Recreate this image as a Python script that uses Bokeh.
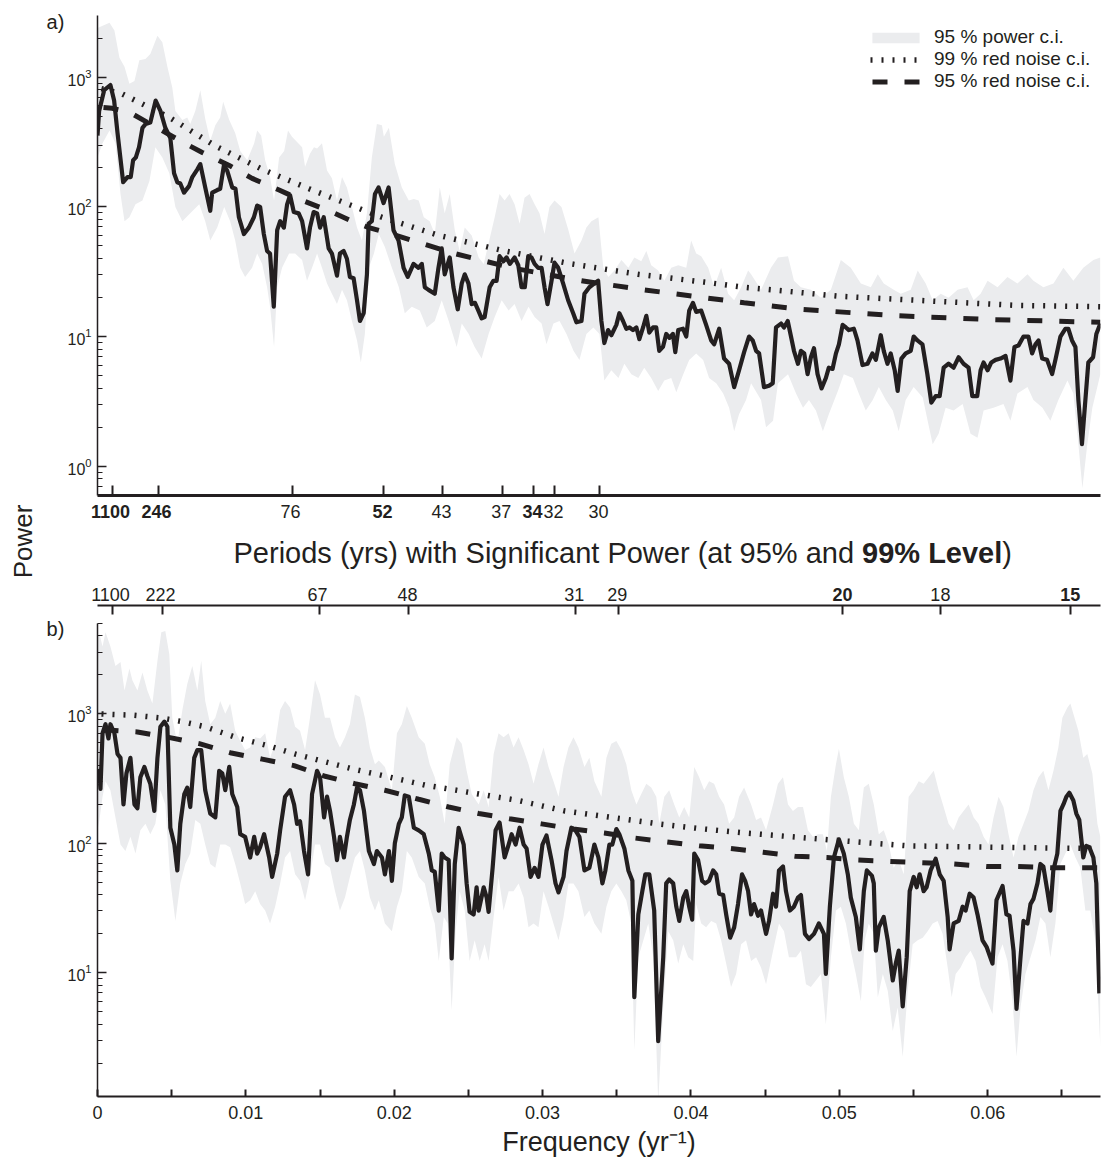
import math
import numpy as np
from bokeh.plotting import figure
from bokeh.layouts import column, row
from bokeh.models import (Range1d, FixedTicker, LogTickFormatter, LinearAxis,
                          ColumnDataSource, Legend, LegendItem, CustomJSTickFormatter)
from bokeh.core.properties import value, field
from bokeh.embed import file_html
from bokeh.resources import INLINE

FONT = "Liberation Sans"
INK = "#231f20"
BAND = "#ebecee"

# Frequencies are given in 1e-3 yr^-1, power as log10(power).

# ---------------- a) ----------------
freq_a = [
    0.00, 0.11, 0.45, 0.87, 1.12, 1.35, 1.73, 2.02, 2.24, 2.40,
    2.58, 2.80, 3.03, 3.25, 3.56, 3.92, 4.24, 4.57, 4.91, 5.16,
    5.38, 5.58, 5.83, 6.17, 6.39, 6.73, 6.93, 7.26, 7.60, 7.73,
    8.07, 8.27, 8.52, 8.74, 9.08, 9.30, 9.53, 9.87, 10.20, 10.54,
    10.76, 10.96, 11.21, 11.43, 11.63, 11.88, 12.11, 12.31, 12.56, 12.78,
    12.98, 13.23, 13.56, 13.79, 14.12, 14.32, 14.57, 14.80, 15.00, 15.25,
    15.58, 15.80, 16.14, 16.34, 16.59, 16.81, 17.01, 17.26, 17.49, 17.69,
    17.94, 18.16, 18.27, 18.49, 18.70, 18.94, 19.28, 19.62, 19.95, 20.29,
    20.63, 20.91, 21.30, 21.63, 21.86, 22.06, 22.31, 22.73, 22.98, 23.20,
    23.40, 23.74, 23.99, 24.28, 24.55, 24.75, 25.00, 25.22, 25.44, 25.67,
    25.89, 26.09, 26.43, 26.68, 26.90, 27.10, 27.35, 27.57, 27.79, 28.11,
    28.36, 28.58, 28.80, 29.03, 29.25, 29.46, 29.70, 29.93, 30.13, 30.33,
    30.60, 30.80, 31.05, 31.38, 31.72, 32.06, 32.28, 32.62, 32.82, 33.15,
    33.49, 33.74, 33.96, 34.16, 34.41, 34.63, 34.97, 35.17, 35.42, 35.64,
    35.86, 36.09, 36.32, 36.52, 36.77, 36.99, 37.19, 37.44, 37.66, 37.86,
    38.11, 38.33, 38.55, 38.78, 38.94, 39.14, 39.46, 39.68, 39.88, 40.13,
    40.35, 40.69, 41.02, 41.36, 41.56, 41.90, 42.23, 42.57, 42.91, 43.24,
    43.58, 43.91, 44.16, 44.39, 44.59, 44.92, 45.26, 45.51, 45.73, 46.07,
    46.27, 46.52, 46.74, 46.94, 47.21, 47.41, 47.63, 47.86, 48.08, 48.29,
    48.53, 48.80, 49.09, 49.29, 49.54, 49.77, 49.97, 50.22, 50.44, 50.64,
    50.98, 51.22, 51.56, 51.90, 52.23, 52.46, 52.79, 52.99, 53.24, 53.46,
    53.73, 53.93, 54.18, 54.47, 54.81, 55.01, 55.26, 55.60, 55.93, 56.20,
    56.49, 56.76, 57.03, 57.36, 57.70, 58.04, 58.37, 58.71, 58.96, 59.29,
    59.52, 59.72, 59.99, 60.24, 60.53, 60.86, 61.20, 61.53, 61.80, 62.07,
    62.41, 62.74, 62.99, 63.22, 63.42, 63.67, 64.00, 64.34, 64.56, 64.90,
    65.23, 65.43, 65.68, 65.91, 66.11, 66.35, 66.58, 66.78, 67.10, 67.32, 67.59,
]
logp_a = [
    2.55, 2.74, 2.90, 2.94, 2.82, 2.57, 2.19, 2.23, 2.23, 2.36,
    2.38, 2.46, 2.61, 2.64, 2.65, 2.82, 2.74, 2.61, 2.53, 2.26,
    2.19, 2.18, 2.11, 2.16, 2.23, 2.29, 2.33, 2.15, 1.97, 2.11,
    2.13, 2.14, 2.32, 2.28, 2.15, 2.14, 1.92, 1.79, 1.84, 1.92,
    2.01, 2.00, 1.79, 1.66, 1.64, 1.23, 1.82, 1.89, 1.84, 2.02,
    2.09, 1.96, 1.95, 1.89, 1.68, 1.84, 1.96, 1.95, 1.84, 1.92,
    1.68, 1.64, 1.47, 1.64, 1.66, 1.60, 1.46, 1.45, 1.28, 1.12,
    1.18, 1.48, 1.87, 1.89, 2.10, 2.15, 2.03, 2.15, 1.82, 1.74,
    1.53, 1.46, 1.56, 1.53, 1.56, 1.38, 1.36, 1.33, 1.53, 1.68,
    1.48, 1.61, 1.38, 1.21, 1.41, 1.48, 1.41, 1.25, 1.26, 1.20,
    1.14, 1.15, 1.38, 1.43, 1.43, 1.62, 1.58, 1.61, 1.56, 1.61,
    1.55, 1.38, 1.38, 1.62, 1.61, 1.56, 1.53, 1.53, 1.38, 1.25,
    1.43, 1.57, 1.53, 1.41, 1.28, 1.18, 1.11, 1.12, 1.33, 1.38,
    1.41, 1.43, 1.12, 0.95, 1.05, 1.01, 1.09, 1.18, 1.12, 1.06,
    1.07, 1.05, 1.07, 0.98, 1.07, 1.16, 1.03, 1.07, 1.07, 0.89,
    0.92, 1.02, 0.99, 1.02, 0.88, 1.05, 1.06, 1.00, 1.20, 1.26,
    1.19, 1.20, 1.09, 0.97, 0.94, 1.06, 0.83, 0.79, 0.61, 0.74,
    0.88, 1.00, 0.97, 0.89, 0.87, 0.61, 0.62, 0.64, 1.07, 1.10,
    1.07, 1.12, 1.00, 0.89, 0.79, 0.89, 0.87, 0.71, 0.84, 0.91,
    0.71, 0.60, 0.68, 0.76, 0.75, 0.87, 0.94, 1.09, 1.07, 1.05,
    1.06, 0.97, 0.78, 0.79, 0.87, 0.82, 1.01, 0.89, 0.79, 0.87,
    0.74, 0.58, 0.83, 0.87, 0.89, 1.00, 0.97, 0.94, 0.71, 0.49,
    0.54, 0.54, 0.76, 0.79, 0.76, 0.84, 0.79, 0.76, 0.54, 0.54,
    0.74, 0.80, 0.74, 0.80, 0.82, 0.83, 0.85, 0.66, 0.92, 0.93,
    1.00, 1.00, 0.87, 0.94, 0.97, 0.83, 0.82, 0.71, 0.82, 1.00,
    1.06, 1.06, 0.97, 0.92, 0.51, 0.17, 0.51, 0.80, 0.84, 1.02, 1.10,
]

band_hi_freq_a = [
    0.00, 0.81, 1.14, 1.48, 1.82, 2.15, 2.49, 2.82, 3.23, 3.56,
    4.04, 4.37, 4.71, 5.04, 5.25, 5.72, 6.05, 6.25, 6.59, 6.93,
    7.26, 7.60, 7.94, 8.27, 8.47, 8.88, 9.28, 9.62, 10.09, 10.56,
    10.76, 11.03, 11.30, 11.63, 11.90, 12.24, 12.58, 12.84, 13.11, 13.45,
    13.79, 13.99, 14.32, 14.59, 14.80, 15.13, 15.47, 15.80, 16.14, 16.48,
    16.81, 17.15, 17.49, 17.82, 18.16, 18.49, 18.83, 19.17, 19.30, 19.64,
    20.04, 20.51, 20.98, 21.32, 21.65, 21.99, 22.39, 22.73, 23.07, 23.40,
    23.74, 24.08, 24.41, 24.75, 25.22, 25.69, 26.03, 26.36, 26.77, 27.10,
    27.44, 27.77, 28.11, 28.45, 28.78, 29.12, 29.46, 29.79, 30.13, 30.46,
    30.80, 31.27, 31.74, 32.15, 32.62, 32.95, 33.29, 33.76, 34.09, 34.43,
    34.84, 35.31, 35.78, 36.18, 36.65, 36.99, 37.32, 37.79, 38.20, 38.67,
    39.14, 39.68, 40.01, 40.35, 40.69, 41.16, 41.56, 42.03, 42.50, 42.91,
    43.38, 43.85, 44.05, 44.72, 45.39, 45.86, 46.54, 46.94, 47.41, 48.08,
    48.76, 49.43, 50.10, 50.77, 51.45, 52.12, 52.59, 52.99, 53.66, 54.14,
    54.81, 55.28, 55.82, 56.29, 56.83, 57.36, 57.97, 58.64, 59.05, 59.52,
    59.99, 60.66, 61.33, 62.00, 62.68, 63.08, 63.75, 64.43, 65.10, 65.77,
    66.44, 67.12, 67.59,
]
band_hi_a = [
    3.38, 3.42, 3.36, 3.15, 3.08, 2.95, 2.97, 3.13, 3.14, 3.18,
    3.32, 3.27, 3.08, 2.92, 2.74, 2.67, 2.69, 2.64, 2.74, 2.90,
    2.68, 2.51, 2.63, 2.69, 2.81, 2.67, 2.57, 2.43, 2.36, 2.49,
    2.59, 2.55, 2.36, 2.23, 2.05, 2.38, 2.43, 2.59, 2.54, 2.50,
    2.46, 2.31, 2.41, 2.46, 2.45, 2.49, 2.28, 2.22, 2.05, 2.23,
    2.15, 2.00, 1.84, 1.74, 1.95, 2.38, 2.64, 2.63, 2.54, 2.61,
    2.33, 2.15, 2.05, 2.06, 2.05, 1.92, 1.89, 1.79, 2.15, 1.95,
    2.10, 1.82, 1.66, 1.84, 1.78, 1.61, 1.56, 1.72, 1.92, 2.10,
    2.05, 2.10, 2.02, 1.87, 2.07, 2.10, 2.02, 1.95, 1.79, 2.00,
    2.05, 2.00, 1.82, 1.64, 1.74, 1.84, 1.89, 1.92, 1.53, 1.46,
    1.51, 1.59, 1.53, 1.61, 1.58, 1.66, 1.55, 1.51, 1.43, 1.53,
    1.55, 1.53, 1.74, 1.64, 1.62, 1.53, 1.38, 1.53, 1.33, 1.28,
    1.38, 1.51, 1.48, 1.36, 1.53, 1.61, 1.62, 1.43, 1.38, 1.36,
    1.30, 1.36, 1.59, 1.53, 1.41, 1.38, 1.48, 1.41, 1.36, 1.33,
    1.36, 1.51, 1.41, 1.28, 1.33, 1.30, 1.36, 1.38, 1.28, 1.33,
    1.43, 1.38, 1.46, 1.41, 1.48, 1.43, 1.38, 1.41, 1.53, 1.43,
    1.53, 1.59, 1.61,
]
band_lo_freq_a = [
    0.00, 0.34, 0.81, 1.21, 1.55, 1.82, 2.15, 2.56, 3.03, 3.50,
    3.90, 4.37, 4.84, 5.25, 5.72, 6.25, 6.86, 7.26, 7.60, 8.07,
    8.54, 8.94, 9.28, 9.62, 9.95, 10.42, 10.76, 11.10, 11.43, 11.63,
    11.90, 12.11, 12.44, 12.91, 13.32, 13.79, 14.12, 14.46, 14.80, 15.13,
    15.47, 15.80, 16.14, 16.48, 16.81, 17.15, 17.49, 17.75, 18.02, 18.29,
    18.63, 18.96, 19.37, 19.84, 20.31, 20.71, 21.18, 21.72, 22.19, 22.73,
    23.20, 23.67, 24.21, 24.55, 25.02, 25.42, 25.89, 26.36, 26.77, 27.24,
    27.71, 28.11, 28.58, 29.05, 29.46, 29.93, 30.26, 30.73, 31.14, 31.61,
    32.08, 32.48, 32.95, 33.42, 33.83, 34.16, 34.63, 35.11, 35.51, 35.98,
    36.45, 36.85, 37.32, 37.79, 38.20, 38.67, 39.01, 39.48, 39.88, 40.35,
    40.82, 41.22, 41.70, 42.17, 42.57, 42.91, 43.24, 43.71, 44.05, 44.72,
    45.06, 45.53, 45.86, 46.54, 47.08, 47.55, 47.95, 48.42, 48.89, 49.29,
    49.90, 50.30, 50.91, 51.31, 51.78, 52.25, 52.66, 53.13, 53.60, 54.00,
    54.47, 55.01, 55.62, 55.95, 56.29, 56.69, 57.16, 57.70, 58.31, 58.84,
    59.31, 59.72, 60.39, 61.06, 61.53, 62.00, 62.68, 63.08, 63.69, 64.22,
    64.76, 65.37, 65.77, 66.11, 66.38, 66.71, 67.05, 67.59,
]
band_lo_a = [
    2.38, 2.49, 2.59, 2.49, 2.10, 1.89, 1.92, 2.02, 2.05, 2.20,
    2.46, 2.38, 2.26, 2.00, 1.89, 1.95, 2.02, 1.89, 1.74, 1.84,
    2.00, 1.89, 1.74, 1.53, 1.46, 1.53, 1.64, 1.56, 1.38, 1.23,
    0.92, 1.38, 1.53, 1.64, 1.64, 1.59, 1.43, 1.53, 1.64, 1.53,
    1.41, 1.33, 1.25, 1.36, 1.28, 1.12, 0.97, 0.80, 1.02, 1.53,
    1.64, 1.79, 1.69, 1.53, 1.38, 1.18, 1.23, 1.20, 1.07, 1.12,
    1.28, 1.12, 0.92, 1.10, 1.02, 0.92, 0.83, 1.02, 1.15, 1.28,
    1.20, 1.25, 1.12, 1.23, 1.15, 1.10, 0.94, 1.10, 1.12, 1.02,
    0.89, 0.82, 1.02, 1.07, 1.02, 0.66, 0.74, 0.68, 0.79, 0.71,
    0.68, 0.76, 0.68, 0.58, 0.66, 0.68, 0.57, 0.71, 0.82, 0.87,
    0.82, 0.68, 0.64, 0.56, 0.45, 0.27, 0.40, 0.51, 0.64, 0.51,
    0.30, 0.35, 0.64, 0.71, 0.56, 0.45, 0.51, 0.43, 0.27, 0.40,
    0.58, 0.71, 0.68, 0.56, 0.43, 0.51, 0.61, 0.51, 0.43, 0.27,
    0.51, 0.61, 0.53, 0.35, 0.17, 0.25, 0.45, 0.43, 0.48, 0.25,
    0.22, 0.43, 0.45, 0.48, 0.35, 0.56, 0.61, 0.51, 0.45, 0.35,
    0.51, 0.66, 0.56, 0.17, -0.17, 0.17, 0.45, 0.71,
]

red99_freq_a = [0.00, 1.68, 4.84, 7.94, 11.10, 14.26, 17.35, 19.17, 23.00,
                27.44, 31.94, 36.45, 40.89, 43.58, 50.10, 56.83, 62.00, 67.59]
red99_a = [2.92, 2.87, 2.69, 2.47, 2.29, 2.14, 2.00, 1.92, 1.78,
           1.66, 1.56, 1.48, 1.42, 1.38, 1.31, 1.27, 1.24, 1.23]
red95_freq_a = [0.00, 1.00, 2.15, 3.70, 5.72, 7.06, 8.88, 10.42, 12.24, 13.79,
                15.60, 17.15, 18.29, 19.84, 24.08, 27.91, 32.62, 36.85, 40.89,
                43.58, 47.41, 53.93, 60.39, 67.59]
red95_a = [2.77, 2.76, 2.73, 2.63, 2.50, 2.42, 2.32, 2.22, 2.13, 2.05,
           1.97, 1.89, 1.84, 1.79, 1.64, 1.53, 1.43, 1.36, 1.30,
           1.26, 1.21, 1.16, 1.13, 1.11]

sig_freq_a = [1.01, 4.10, 13.11, 19.30, 23.27, 27.30, 29.39, 30.80, 33.83]
sig_period_a = ["1100", "246", "76", "52", "43", "37", "34", "32", "30"]
sig_bold_a = [True, True, False, True, False, False, True, False, False]

# ---------------- b) ----------------
freq_b = [
    0.00, 0.11, 0.20, 0.34, 0.54, 0.74, 0.87, 1.14, 1.35, 1.55,
    1.75, 1.95, 2.22, 2.49, 2.69, 2.89, 3.16, 3.36, 3.56, 3.83,
    4.04, 4.24, 4.51, 4.71, 4.91, 5.18, 5.38, 5.58, 5.85, 6.05,
    6.25, 6.52, 6.73, 6.99, 7.26, 7.60, 7.94, 8.20, 8.41, 8.61,
    8.88, 9.08, 9.42, 9.62, 9.95, 10.29, 10.56, 10.76, 10.96, 11.23,
    11.57, 11.77, 12.11, 12.31, 12.64, 12.98, 13.25, 13.45, 13.65, 13.92,
    14.19, 14.46, 14.80, 15.00, 15.27, 15.47, 15.67, 15.94, 16.14, 16.34,
    16.61, 16.81, 17.01, 17.28, 17.49, 17.69, 17.96, 18.29, 18.63, 18.83,
    19.17, 19.37, 19.64, 19.84, 20.04, 20.31, 20.51, 20.71, 20.98, 21.32,
    21.65, 21.99, 22.33, 22.53, 22.73, 23.00, 23.20, 23.40, 23.67, 23.87,
    24.08, 24.34, 24.68, 24.88, 25.08, 25.35, 25.55, 25.69, 26.03, 26.23,
    26.36, 26.63, 26.83, 27.10, 27.44, 27.71, 27.91, 28.18, 28.45, 28.72,
    28.92, 29.19, 29.46, 29.72, 29.99, 30.26, 30.60, 30.87, 31.07, 31.41,
    31.61, 31.94, 32.21, 32.48, 32.82, 33.15, 33.49, 33.76, 34.03, 34.23,
    34.50, 34.70, 34.97, 35.17, 35.51, 35.78, 36.05, 36.18, 36.45, 36.72,
    36.92, 37.19, 37.52, 37.79, 38.13, 38.33, 38.53, 38.80, 39.01, 39.21,
    39.48, 39.68, 39.88, 40.08, 40.22, 40.48, 40.75, 40.96, 41.22, 41.49,
    41.70, 41.90, 42.17, 42.37, 42.64, 42.91, 43.17, 43.44, 43.65, 43.85,
    44.05, 44.25, 44.52, 44.72, 45.06, 45.26, 45.53, 45.73, 45.93, 46.20,
    46.40, 46.67, 46.94, 47.21, 47.41, 47.68, 47.95, 48.29, 48.62, 48.96,
    49.09, 49.36, 49.63, 49.97, 50.30, 50.57, 50.77, 51.11, 51.38, 51.65,
    51.85, 52.19, 52.32, 52.46, 52.66, 52.99, 53.26, 53.60, 53.80, 54.00,
    54.27, 54.54, 54.74, 55.01, 55.21, 55.41, 55.68, 55.88, 56.15, 56.49,
    56.76, 57.03, 57.30, 57.43, 57.70, 58.04, 58.31, 58.51, 58.78, 59.05,
    59.31, 59.65, 59.92, 60.32, 60.59, 61.00, 61.26, 61.47, 61.74, 61.94,
    62.21, 62.41, 62.68, 62.88, 63.08, 63.35, 63.55, 63.75, 64.02, 64.22,
    64.42, 64.69, 64.90, 65.10, 65.30, 65.50, 65.77, 65.97, 66.17, 66.44,
    66.64, 66.85, 67.12, 67.32, 67.52,
]
logp_b = [
    2.46, 2.56, 2.42, 2.85, 2.92, 2.81, 2.92, 2.85, 2.69, 2.66,
    2.30, 2.54, 2.66, 2.30, 2.27, 2.51, 2.59, 2.52, 2.46, 2.25,
    2.66, 2.90, 2.94, 2.90, 2.12, 1.99, 1.79, 2.15, 2.38, 2.43,
    2.28, 2.66, 2.72, 2.72, 2.41, 2.23, 2.20, 2.56, 2.54, 2.41,
    2.59, 2.38, 2.28, 2.07, 2.05, 1.89, 2.05, 1.92, 1.97, 2.07,
    1.89, 1.74, 1.92, 2.10, 2.36, 2.41, 2.30, 2.15, 2.17, 1.94,
    1.76, 2.38, 2.56, 2.51, 2.20, 2.36, 2.25, 2.05, 1.87, 2.05,
    1.89, 2.05, 2.18, 2.30, 2.43, 2.41, 2.25, 1.94, 1.84, 1.94,
    1.89, 1.76, 1.94, 1.71, 2.00, 2.15, 2.20, 2.37, 2.36, 2.12,
    2.10, 2.07, 1.92, 1.79, 1.78, 1.48, 1.92, 1.89, 1.87, 1.11,
    1.84, 2.12, 1.99, 1.69, 1.47, 1.45, 1.66, 1.48, 1.66, 1.58,
    1.47, 1.81, 2.10, 2.16, 1.89, 1.99, 2.07, 1.99, 2.12, 1.99,
    1.96, 1.74, 1.81, 1.74, 1.99, 2.06, 1.87, 1.69, 1.62, 1.74,
    1.94, 2.12, 2.10, 2.05, 1.79, 1.81, 1.99, 1.89, 1.69, 1.79,
    1.99, 1.99, 2.11, 2.07, 1.96, 1.79, 1.71, 0.81, 1.45, 1.63,
    1.76, 1.76, 1.48, 0.47, 1.12, 1.69, 1.72, 1.69, 1.51, 1.40,
    1.58, 1.63, 1.51, 1.41, 1.92, 1.87, 1.71, 1.69, 1.71, 1.79,
    1.76, 1.61, 1.60, 1.45, 1.27, 1.35, 1.53, 1.76, 1.71, 1.63,
    1.45, 1.53, 1.44, 1.48, 1.30, 1.40, 1.61, 1.51, 1.79, 1.82,
    1.63, 1.48, 1.51, 1.58, 1.60, 1.30, 1.26, 1.30, 1.38, 1.30,
    0.99, 1.51, 1.89, 2.03, 1.92, 1.76, 1.58, 1.43, 1.18, 1.63,
    1.79, 1.75, 1.69, 1.17, 1.35, 1.43, 1.25, 0.94, 1.07, 1.17,
    0.74, 1.12, 1.63, 1.74, 1.66, 1.76, 1.63, 1.66, 1.79, 1.88,
    1.76, 1.71, 1.43, 1.18, 1.38, 1.40, 1.51, 1.48, 1.61, 1.58,
    1.45, 1.25, 1.20, 1.07, 1.56, 1.67, 1.45, 1.44, 1.17, 0.72,
    1.12, 1.40, 1.38, 1.53, 1.57, 1.69, 1.84, 1.82, 1.63, 1.48,
    1.79, 1.92, 2.25, 2.30, 2.36, 2.39, 2.33, 2.23, 2.18, 1.89,
    1.98, 1.97, 1.89, 1.69, 0.84,
]

band_hi_freq_b = [
    0.00, 0.13, 0.34, 0.54, 0.87, 1.21, 1.55, 1.82, 2.15, 2.35,
    2.69, 3.03, 3.36, 3.70, 4.04, 4.30, 4.57, 4.84, 5.04, 5.38,
    5.72, 6.05, 6.39, 6.73, 6.99, 7.26, 7.60, 7.94, 8.27, 8.61,
    8.94, 9.28, 9.62, 9.95, 10.29, 10.63, 10.96, 11.30, 11.63, 11.97,
    12.31, 12.64, 12.98, 13.32, 13.65, 13.99, 14.32, 14.66, 15.00, 15.33,
    15.67, 16.01, 16.34, 16.68, 17.01, 17.35, 17.69, 18.02, 18.36, 18.70,
    18.96, 19.37, 19.84, 20.18, 20.51, 20.85, 21.18, 21.65, 22.06, 22.39,
    22.73, 23.07, 23.40, 23.74, 24.21, 24.55, 24.88, 25.22, 25.69, 26.03,
    26.36, 26.70, 27.03, 27.37, 27.71, 28.04, 28.38, 28.72, 29.05, 29.39,
    29.72, 30.06, 30.40, 30.73, 31.07, 31.41, 31.74, 32.08, 32.41, 32.82,
    33.15, 33.49, 33.96, 34.30, 34.63, 34.97, 35.31, 35.64, 35.98, 36.32,
    36.65, 36.99, 37.32, 37.66, 37.86, 38.20, 38.53, 38.87, 39.21, 39.54,
    39.88, 40.22, 40.55, 40.89, 41.22, 41.56, 41.90, 42.23, 42.57, 42.91,
    43.24, 43.58, 44.05, 44.39, 44.72, 45.06, 45.53, 45.86, 46.20, 46.54,
    46.87, 47.21, 47.55, 47.88, 48.22, 48.55, 48.89, 49.16, 49.43, 49.77,
    49.97, 50.30, 50.64, 50.98, 51.31, 51.65, 51.98, 52.32, 52.66, 52.99,
    53.33, 53.66, 54.00, 54.34, 54.67, 55.01, 55.35, 55.68, 56.02, 56.36,
    56.69, 57.03, 57.36, 57.70, 58.04, 58.37, 58.71, 59.05, 59.38, 59.72,
    60.05, 60.39, 60.73, 61.06, 61.40, 61.74, 62.07, 62.41, 62.74, 63.08,
    63.42, 63.75, 64.09, 64.43, 64.76, 65.03, 65.37, 65.57, 65.77, 66.11,
    66.44, 66.71, 67.05, 67.39, 67.59,
]
band_hi_b = [
    3.60, 3.62, 3.52, 3.63, 3.52, 3.37, 3.40, 3.18, 3.35, 3.26,
    3.18, 3.32, 3.18, 3.08, 3.41, 3.63, 3.64, 3.46, 2.97, 2.77,
    3.03, 3.23, 3.37, 3.18, 3.41, 3.10, 2.92, 2.97, 3.10, 3.00,
    3.08, 2.87, 2.79, 2.72, 2.74, 2.82, 2.81, 2.85, 2.66, 2.77,
    3.03, 3.10, 3.05, 2.90, 2.87, 2.72, 2.97, 3.26, 3.15, 2.97,
    2.97, 2.82, 2.74, 2.82, 2.92, 3.15, 3.13, 2.97, 2.74, 2.61,
    2.64, 2.59, 2.41, 2.85, 2.92, 3.06, 2.97, 2.82, 2.77, 2.61,
    2.51, 2.36, 2.15, 2.61, 2.82, 2.77, 2.56, 2.38, 2.30, 2.41,
    2.28, 2.69, 2.85, 2.82, 2.85, 2.74, 2.82, 2.72, 2.61, 2.46,
    2.61, 2.74, 2.59, 2.48, 2.36, 2.59, 2.74, 2.82, 2.74, 2.59,
    2.66, 2.48, 2.36, 2.66, 2.77, 2.79, 2.72, 2.61, 2.41, 2.30,
    2.38, 2.46, 2.43, 2.36, 2.15, 2.36, 2.41, 2.30, 2.20, 2.28,
    2.20, 2.59, 2.51, 2.41, 2.48, 2.46, 2.36, 2.30, 2.15, 2.20,
    2.36, 2.43, 2.30, 2.18, 2.20, 2.10, 2.30, 2.46, 2.51, 2.30,
    2.25, 2.28, 2.28, 2.10, 2.05, 2.07, 2.07, 1.94, 2.36, 2.61,
    2.73, 2.51, 2.36, 2.15, 2.10, 2.43, 2.46, 2.30, 2.07, 2.10,
    1.99, 1.81, 1.87, 1.76, 2.36, 2.41, 2.48, 2.46, 2.51, 2.56,
    2.41, 2.28, 2.15, 2.10, 2.20, 2.25, 2.30, 2.20, 2.15, 2.05,
    1.99, 2.20, 2.36, 2.28, 2.07, 1.89, 2.05, 2.15, 2.25, 2.41,
    2.51, 2.56, 2.41, 2.56, 2.74, 2.97, 3.05, 3.08, 3.00, 2.87,
    2.66, 2.69, 2.54, 2.15, 2.05,
]
band_lo_freq_b = [
    0.00, 0.13, 0.34, 0.54, 0.87, 1.21, 1.55, 1.88, 2.22, 2.56,
    2.89, 3.23, 3.56, 3.90, 4.24, 4.57, 4.91, 5.25, 5.58, 5.92,
    6.25, 6.59, 6.93, 7.26, 7.60, 7.94, 8.27, 8.61, 8.94, 9.28,
    9.62, 9.95, 10.29, 10.63, 10.96, 11.30, 11.63, 11.97, 12.31, 12.64,
    12.98, 13.32, 13.65, 13.99, 14.32, 14.66, 15.00, 15.33, 15.67, 16.01,
    16.34, 16.68, 17.01, 17.35, 17.69, 18.02, 18.36, 18.70, 18.96, 19.37,
    19.84, 20.18, 20.51, 20.85, 21.18, 21.65, 22.06, 22.39, 22.73, 23.00,
    23.34, 23.60, 23.87, 24.14, 24.41, 24.75, 25.08, 25.42, 25.76, 26.09,
    26.36, 26.70, 27.03, 27.37, 27.71, 28.04, 28.38, 28.72, 29.05, 29.39,
    29.72, 30.06, 30.40, 30.73, 31.07, 31.41, 31.74, 32.08, 32.41, 32.82,
    33.15, 33.49, 33.96, 34.30, 34.63, 34.97, 35.31, 35.64, 35.98, 36.18,
    36.45, 36.79, 37.12, 37.46, 37.79, 38.13, 38.47, 38.80, 39.14, 39.48,
    39.81, 40.15, 40.35, 40.69, 41.02, 41.36, 41.70, 42.03, 42.37, 42.70,
    43.04, 43.38, 43.71, 44.05, 44.39, 44.72, 45.06, 45.53, 45.93, 46.27,
    46.60, 47.08, 47.41, 47.75, 48.08, 48.42, 48.76, 49.09, 49.43, 49.77,
    50.10, 50.44, 50.77, 51.11, 51.45, 51.71, 51.98, 52.32, 52.59, 52.93,
    53.26, 53.60, 53.93, 54.27, 54.61, 54.94, 55.28, 55.62, 55.95, 56.29,
    56.62, 56.96, 57.30, 57.57, 57.84, 58.17, 58.51, 58.84, 59.18, 59.52,
    59.85, 60.32, 60.66, 61.00, 61.33, 61.67, 61.94, 62.21, 62.54, 62.88,
    63.22, 63.55, 63.89, 64.22, 64.56, 64.90, 65.23, 65.57, 65.91, 66.24,
    66.58, 66.91, 67.25, 67.59,
]
band_lo_b = [
    2.10, 2.18, 2.36, 2.48, 2.41, 2.20, 1.99, 1.94, 2.05, 1.92,
    2.10, 2.15, 2.07, 2.15, 2.41, 2.30, 1.71, 1.40, 1.69, 1.84,
    1.92, 2.18, 2.15, 1.99, 1.84, 1.81, 1.99, 1.99, 1.97, 1.84,
    1.69, 1.53, 1.56, 1.63, 1.53, 1.48, 1.38, 1.51, 1.69, 1.89,
    1.94, 1.76, 1.71, 1.56, 1.74, 1.99, 1.99, 1.84, 1.81, 1.63,
    1.48, 1.58, 1.74, 1.89, 1.94, 1.79, 1.58, 1.48, 1.56, 1.38,
    1.32, 1.51, 1.63, 1.94, 1.89, 1.74, 1.69, 1.51, 1.38, 1.09,
    1.43, 1.38, 0.71, 1.32, 1.63, 1.48, 1.09, 1.25, 1.09, 1.22,
    1.09, 1.43, 1.74, 1.48, 1.63, 1.63, 1.69, 1.58, 1.35, 1.38,
    1.35, 1.63, 1.51, 1.38, 1.25, 1.43, 1.69, 1.69, 1.63, 1.43,
    1.48, 1.38, 1.30, 1.51, 1.63, 1.69, 1.63, 1.56, 1.38, 0.40,
    1.12, 1.25, 1.38, 1.12, 0.00, 0.73, 1.32, 1.25, 1.07, 1.22,
    1.12, 1.09, 1.53, 1.38, 1.35, 1.40, 1.38, 1.25, 1.07, 0.89,
    0.99, 1.22, 1.25, 1.09, 1.12, 1.04, 0.91, 1.17, 1.38, 1.32,
    1.12, 1.12, 1.17, 0.91, 0.89, 0.94, 0.99, 0.60, 1.12, 1.48,
    1.51, 1.38, 1.17, 0.99, 0.78, 1.25, 1.38, 1.30, 0.81, 0.99,
    0.86, 0.55, 0.73, 0.35, 0.86, 1.22, 1.25, 1.27, 1.32, 1.38,
    1.40, 1.30, 1.04, 0.81, 0.99, 1.04, 1.12, 1.17, 1.09, 0.89,
    0.81, 0.68, 1.12, 1.22, 1.09, 0.78, 0.35, 0.73, 0.99, 1.12,
    1.25, 1.43, 1.38, 1.12, 1.38, 1.84, 1.92, 1.99, 1.89, 1.81,
    1.48, 1.48, 1.25, 0.42,
]

red99_freq_b = [0.00, 2.35, 4.17, 5.72, 7.26, 9.28, 11.30, 13.32, 15.33, 17.35,
                18.96, 22.06, 25.22, 28.38, 31.47, 34.63, 37.79, 40.89, 43.58,
                48.96, 54.61, 60.19, 66.71, 67.59]
red99_b = [3.00, 2.99, 2.97, 2.94, 2.90, 2.82, 2.76, 2.69, 2.63, 2.57,
           2.53, 2.45, 2.39, 2.33, 2.25, 2.20, 2.15, 2.11, 2.08,
           2.03, 1.98, 1.97, 1.96, 1.96]
red95_freq_b = [0.00, 2.69, 4.71, 6.86, 8.94, 11.10, 13.25, 15.27, 17.35, 19.37,
                21.65, 23.67, 25.69, 27.77, 29.93, 32.08, 34.16, 36.25, 38.40,
                40.55, 42.64, 44.86, 47.01, 49.16, 51.24, 53.40, 55.55, 57.70,
                59.92, 62.00, 64.50, 67.59]
red95_b = [2.88, 2.86, 2.82, 2.77, 2.70, 2.65, 2.60, 2.52, 2.46, 2.41,
           2.34, 2.28, 2.23, 2.19, 2.15, 2.11, 2.08, 2.04, 2.01,
           1.98, 1.96, 1.93, 1.90, 1.89, 1.87, 1.86, 1.85, 1.84,
           1.82, 1.82, 1.81, 1.81]

sig_freq_b = [1.01, 4.37, 14.93, 20.98, 32.21, 35.10, 50.24, 56.83, 65.57]
sig_period_b = ["1100", "222", "67", "48", "31", "29", "20", "18", "15"]
sig_bold_b = [False, False, False, False, False, False, True, False, True]

freq_ticks = [0.0, 0.01, 0.02, 0.03, 0.04, 0.05, 0.06]
freq_minor = [0.005, 0.015, 0.025, 0.035, 0.045, 0.055, 0.065]
freq_tick_labels = ["0", "0.01", "0.02", "0.03", "0.04", "0.05", "0.06"]

# ---------------- page geometry ----------------
STRIP_W = 64            # left strip holding "a)", "b)" and "Power"
PANEL_W = 1103 - STRIP_W
LEFT_PAD = 31           # room for the power tick labels
RIGHT_PAD = 3
FRAME_W = PANEL_W - LEFT_PAD - RIGHT_PAD
F_MAX = 0.0676
PX = F_MAX / FRAME_W    # frequency per pixel
DECADE_PX = 129.4
GAP_TOP, GAP_BOTTOM = 498, 604
GAP_H = GAP_BOTTOM - GAP_TOP


def hz(values):
    return np.asarray(values) * 1e-3


def pw(values):
    return 10.0 ** np.asarray(values)


def band_outline(f_hi, p_hi, f_lo, p_lo):
    xs = np.concatenate([hz(f_hi), hz(f_lo)[::-1]])
    ys = np.concatenate([pw(p_hi), pw(p_lo)[::-1]])
    return xs, ys


def decade_minors(decades):
    return [m * d for d in decades for m in range(2, 10)]


def base_style(p):
    p.grid.visible = False
    p.outline_line_color = None
    p.background_fill_color = "white"
    p.border_fill_color = "white"


def free_frame(p):
    # text-only strips keep their own full-size frame
    try:
        p.frame_align = False
    except (AttributeError, ValueError):
        pass


def style_power_axis(ax, ticks, minors):
    ax.ticker = FixedTicker(ticks=ticks, minor_ticks=minors)
    ax.formatter = LogTickFormatter()
    ax.axis_line_color = INK
    ax.axis_line_width = 1.5
    ax.major_tick_in = 9
    ax.major_tick_out = 0
    ax.minor_tick_in = 5
    ax.minor_tick_out = 0
    ax.major_tick_line_color = INK
    ax.minor_tick_line_color = INK
    ax.major_tick_line_width = 1.5
    ax.minor_tick_line_width = 1.2
    ax.major_label_text_font = FONT
    ax.major_label_text_font_size = "16px"
    ax.major_label_text_color = INK
    ax.major_label_standoff = 6


def style_period_axis(ax, ticks, line_width, tick_len):
    ax.ticker = FixedTicker(ticks=ticks, minor_ticks=[])
    ax.formatter = CustomJSTickFormatter(code="return '';")
    ax.axis_line_color = INK
    ax.axis_line_width = line_width
    ax.major_tick_in = tick_len
    ax.major_tick_out = 0
    ax.minor_tick_in = 0
    ax.minor_tick_out = 0
    ax.major_tick_line_color = INK
    ax.major_tick_line_width = 2
    ax.major_label_standoff = 0
    ax.major_label_text_font_size = "0px"


def add_text(p, x, y, text, size, style="normal", align="left",
             baseline="middle", angle=0.0):
    n = len(text)
    styles = style if isinstance(style, list) else [style] * n
    src = ColumnDataSource(dict(x=list(x), y=list(y), text=list(text), style=styles))
    p.text(x="x", y="y", text="text", source=src, angle=angle,
           text_font=value(FONT), text_font_size=value(f"{size}px"),
           text_font_style=field("style"), text_color=INK,
           text_align=align, text_baseline=baseline)


def draw_panel(p, f, logp, band, r99, r95):
    bx, by = band
    band_r = p.patch(bx, by, fill_color=BAND, line_color=None)
    r99_r = p.line(hz(r99[0]), pw(r99[1]), line_color=INK, line_width=5.5,
                   line_dash="2 9", line_dash_offset=7)
    r95_r = p.line(hz(r95[0]), pw(r95[1]), line_color=INK, line_width=5,
                   line_dash="15 17", line_dash_offset=26)
    p.line(hz(f), pw(logp), line_color=INK, line_width=4.2, line_join="round")
    return band_r, r99_r, r95_r


x_range = Range1d(0, F_MAX)

# ---------- panel a ----------
pa = figure(width=PANEL_W, height=GAP_TOP, x_range=x_range,
            y_range=Range1d(10 ** -0.226, 10 ** 3.476), y_axis_type="log",
            output_backend="svg", toolbar_location=None, title=None,
            min_border_left=LEFT_PAD, min_border_right=RIGHT_PAD,
            min_border_top=15, min_border_bottom=3)
base_style(pa)
band_a, r99_a_r, r95_a_r = draw_panel(
    pa, freq_a, logp_a,
    band_outline(band_hi_freq_a, band_hi_a, band_lo_freq_a, band_lo_a),
    (red99_freq_a, red99_a), (red95_freq_a, red95_a))
style_power_axis(pa.yaxis[0], [1, 10, 100, 1000],
                 [0.6, 0.7, 0.8, 0.9] + decade_minors([1, 10, 100]) + [2000])
style_period_axis(pa.xaxis[0], list(hz(sig_freq_a)), 3, 10)

legend = Legend(items=[
    LegendItem(label=value("95 % power c.i."), renderers=[band_a]),
    LegendItem(label=value("99 % red noise c.i."), renderers=[r99_a_r]),
    LegendItem(label=value("95 % red noise c.i."), renderers=[r95_a_r]),
], location=(769, 403), orientation="vertical", glyph_width=59, glyph_height=13,
    label_standoff=9, label_height=22, spacing=0, padding=0, margin=0,
    border_line_color=None, background_fill_alpha=0,
    label_text_font=FONT, label_text_font_size="19px", label_text_color=INK)
pa.add_layout(legend)

# ---------- strip between the panels: period labels and heading ----------
gap = figure(width=PANEL_W, height=GAP_H, frame_width=PANEL_W, frame_height=GAP_H,
             x_range=Range1d(-LEFT_PAD * PX, F_MAX + RIGHT_PAD * PX),
             y_range=Range1d(GAP_BOTTOM, GAP_TOP),
             x_axis_location=None, y_axis_location=None,
             output_backend="svg", toolbar_location=None, title=None,
             min_border_left=0, min_border_right=0, min_border_top=0,
             min_border_bottom=0)
base_style(gap)
free_frame(gap)
add_text(gap, hz(sig_freq_a), [511] * len(sig_freq_a), sig_period_a, 18,
         style=["bold" if b else "normal" for b in sig_bold_a], align="center")
add_text(gap, hz(sig_freq_b), [594] * len(sig_freq_b), sig_period_b, 18,
         style=["bold" if b else "normal" for b in sig_bold_b], align="center")

head_size = 29
head_plain = "Periods (yrs) with Significant Power (at 95% and "
head_bold = "99% Level"
head_x0 = 138 * PX
head_x1 = head_x0 + 21.674 * head_size * PX
head_x2 = head_x1 + 4.836 * head_size * PX
add_text(gap, [head_x0], [552], [head_plain], head_size)
add_text(gap, [head_x1], [552], [head_bold], head_size, style="bold")
add_text(gap, [head_x2], [552], [")"], head_size)

# ---------- panel b ----------
b_top_log = 0.043 + (1096 - 605) / DECADE_PX
pb = figure(width=PANEL_W, height=1173 - GAP_BOTTOM, x_range=x_range,
            y_range=Range1d(10 ** 0.043, 10 ** b_top_log), y_axis_type="log",
            output_backend="svg", toolbar_location=None, title=None,
            min_border_left=LEFT_PAD, min_border_right=RIGHT_PAD,
            min_border_top=1, min_border_bottom=77)
base_style(pb)
freq_axis = pb.xaxis[0]
draw_panel(pb, freq_b, logp_b,
           band_outline(band_hi_freq_b, band_hi_b, band_lo_freq_b, band_lo_b),
           (red99_freq_b, red99_b), (red95_freq_b, red95_b))
style_power_axis(pb.yaxis[0], [10, 100, 1000],
                 decade_minors([1, 10, 100]) + [2000, 3000, 4000, 5000])
pb.yaxis[0].bounds = (10 ** 0.043, 10 ** 3.696)

freq_axis.ticker = FixedTicker(ticks=freq_ticks, minor_ticks=freq_minor)
freq_axis.major_label_overrides = dict(zip(freq_ticks, freq_tick_labels))
freq_axis.axis_line_color = INK
freq_axis.axis_line_width = 2
freq_axis.major_tick_in = 7
freq_axis.major_tick_out = 0
freq_axis.minor_tick_in = 7
freq_axis.minor_tick_out = 0
freq_axis.major_tick_line_color = INK
freq_axis.minor_tick_line_color = INK
freq_axis.major_tick_line_width = 2
freq_axis.minor_tick_line_width = 2
freq_axis.major_label_text_font = FONT
freq_axis.major_label_text_font_size = "18px"
freq_axis.major_label_text_color = INK
freq_axis.major_label_standoff = 9
freq_axis.axis_label = "Frequency (yr\u207b\u00b9)"
freq_axis.axis_label_text_font = FONT
freq_axis.axis_label_text_font_size = "27px"
freq_axis.axis_label_text_font_style = "normal"
freq_axis.axis_label_text_color = INK
freq_axis.axis_label_standoff = 5

top_axis = LinearAxis()
style_period_axis(top_axis, list(hz(sig_freq_b)), 2.2, 9)
pb.add_layout(top_axis, "above")

# ---------- left strip: panel letters and the shared axis title ----------
side = figure(width=STRIP_W, height=1173, frame_width=STRIP_W, frame_height=1173,
              x_range=Range1d(0, STRIP_W), y_range=Range1d(1173, 0),
              x_axis_location=None, y_axis_location=None,
              output_backend="svg", toolbar_location=None, title=None,
              min_border_left=0, min_border_right=0, min_border_top=0,
              min_border_bottom=0)
base_style(side)
free_frame(side)
add_text(side, [55, 55], [21, 628], ["a)", "b)"], 20, align="center")
add_text(side, [22], [541], ["Power"], 26, align="center", angle=math.pi / 2)

layout = row(side, column(pa, gap, pb))
open("out.html", "w").write(file_html(layout, INLINE))
